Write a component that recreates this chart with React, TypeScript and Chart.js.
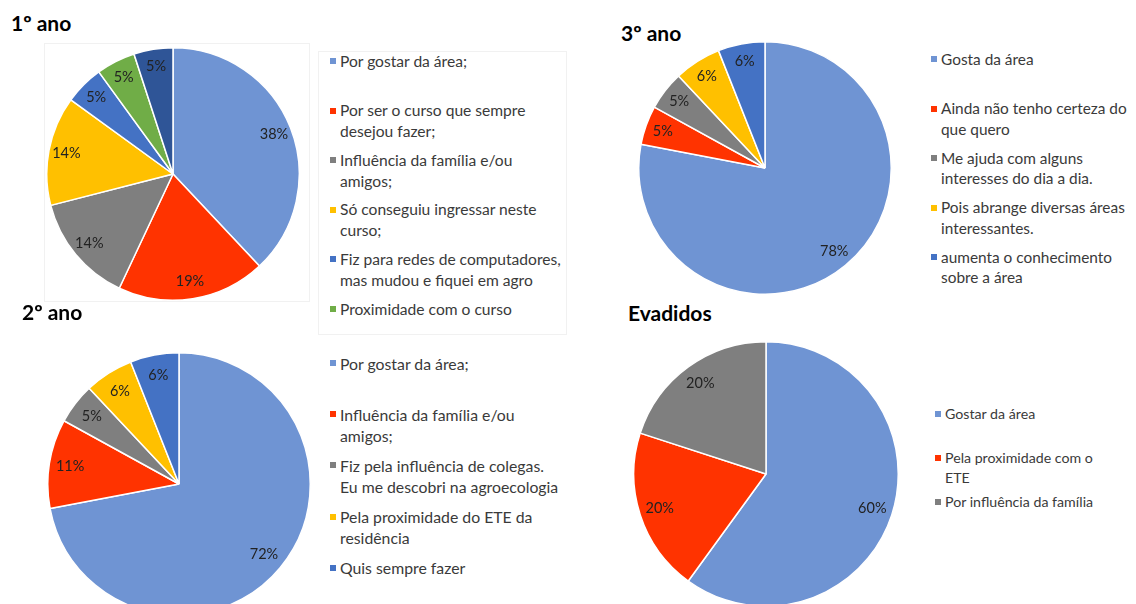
import React, { useEffect, useRef } from "react";
import { Chart, registerables } from "chart.js";

Chart.register(...registerables);

// ---------- Data ----------
const titles = ["1º ano", "2º ano", "3º ano", "Evadidos"];

const labels1 = [
  "Por gostar da área;",
  "Por ser o curso que sempre\ndesejou fazer;",
  "Influência da família e/ou\namigos;",
  "Só conseguiu ingressar neste\ncurso;",
  "Fiz para redes de computadores,\nmas mudou e fiquei em agro",
  "Proximidade com o curso",
];
const values1 = [38, 19, 14, 14, 5, 5, 5];

const labels2 = [
  "Por gostar da área;",
  "Influência da família e/ou\namigos;",
  "Fiz pela influência de colegas.\nEu me descobri na agroecologia",
  "Pela proximidade do ETE da\nresidência",
  "Quis sempre fazer",
];
const values2 = [72, 11, 5, 6, 6];

const labels3 = [
  "Gosta da área",
  "Ainda não tenho certeza do\nque quero",
  "Me ajuda com alguns\ninteresses do dia a dia.",
  "Pois abrange diversas áreas\ninteressantes.",
  "aumenta o conhecimento\nsobre a área",
];
const values3 = [78, 5, 5, 6, 6];

const labels4 = [
  "Gostar da área",
  "Pela proximidade com o\nETE",
  "Por influência da família",
];
const values4 = [60, 20, 20];

// ---------- Styles ----------
const LB = "#6f94d3";
const RED = "#ff3300";
const GRAY = "#7f7f7f";
const GOLD = "#ffc000";
const BLUE = "#4472c4";
const GREEN = "#70ad47";
const NAVY = "#2f5597";

const colors1 = [LB, RED, GRAY, GOLD, BLUE, GREEN, NAVY];
const colors2 = [LB, RED, GRAY, GOLD, BLUE];
const colors3 = [LB, RED, GRAY, GOLD, BLUE];
const colors4 = [LB, RED, GRAY];

const FONT = "Lato, 'Open Sans', sans-serif";

const pctPlugin = {
  id: "pct",
  afterDatasetsDraw(chart: any, _args: any, opts: any) {
    const ctx = chart.ctx;
    const meta = chart.getDatasetMeta(0);
    const data = chart.data.datasets[0].data;
    ctx.save();
    ctx.font = `${opts.size}px ${FONT}`;
    ctx.fillStyle = opts.color;
    ctx.textAlign = "center";
    ctx.textBaseline = "middle";
    meta.data.forEach((arc: any, i: number) => {
      const p = arc.getProps(["x", "y", "startAngle", "endAngle", "outerRadius"], true);
      const mid = (p.startAngle + p.endAngle) / 2;
      const d = p.outerRadius * opts.frac;
      ctx.fillText(`${data[i]}%`, p.x + Math.cos(mid) * d, p.y + Math.sin(mid) * d);
    });
    ctx.restore();
  },
};

type PieProps = {
  values: number[];
  labels: string[];
  colors: string[];
  cx: number;
  cy: number;
  r: number;
  frac: number;
  size: number;
};

function Pie({ values, labels, colors, cx, cy, r, frac, size }: PieProps) {
  const ref = useRef<HTMLCanvasElement | null>(null);
  const S = Math.round(2 * r + 2);
  useEffect(() => {
    if (!ref.current) return;
    const chart = new Chart(ref.current, {
      type: "pie",
      data: {
        labels: values.map((_, i) => labels[i] ?? ""),
        datasets: [
          {
            data: values,
            backgroundColor: colors,
            borderColor: "#ffffff",
            borderWidth: 1.5,
          },
        ],
      },
      options: {
        animation: false,
        responsive: false,
        devicePixelRatio: 1,
        layout: { padding: 0 },
        plugins: {
          legend: { display: false },
          tooltip: { enabled: false },
          title: { display: false },
          pct: { frac, size, color: "#222222" },
        } as any,
      },
      plugins: [pctPlugin as any],
    });
    return () => chart.destroy();
  }, []);
  return (
    <canvas
      ref={ref}
      width={S}
      height={S}
      style={{
        position: "absolute",
        left: cx - S / 2,
        top: cy - S / 2,
        width: S,
        height: S,
      }}
    />
  );
}

type LegendProps = {
  labels: string[];
  colors: string[];
  x: number;
  y0: number;
  gap: number;
  fontSize: number;
  lineHeight: number;
};

function Legend({ labels, colors, x, y0, gap, fontSize, lineHeight }: LegendProps) {
  return (
    <>
      {labels.map((t, i) => {
        const yc = y0 + i * gap;
        return (
          <React.Fragment key={i}>
            <div
              style={{
                position: "absolute",
                left: x - 10,
                top: yc - 3,
                width: 6,
                height: 6,
                background: colors[i],
              }}
            />
            <div
              style={{
                position: "absolute",
                left: x,
                top: yc - lineHeight / 2,
                fontFamily: FONT,
                fontSize,
                lineHeight: `${lineHeight}px`,
                color: "#3a3a3a",
                whiteSpace: "pre",
              }}
            >
              {t}
            </div>
          </React.Fragment>
        );
      })}
    </>
  );
}

function Title({ text, x, y }: { text: string; x: number; y: number }) {
  return (
    <div
      style={{
        position: "absolute",
        left: x,
        top: y - 14,
        fontFamily: FONT,
        fontWeight: 700,
        fontSize: 21,
        lineHeight: "28px",
        color: "#000",
        whiteSpace: "pre",
      }}
    >
      {text}
    </div>
  );
}

export default function App() {
  return (
    <div
      style={{
        position: "absolute",
        left: 0,
        top: 0,
        width: 1136,
        height: 604,
        overflow: "hidden",
        background: "#ffffff",
      }}
    >
      {/* faint frames of chart 1 */}
      <div style={{ position: "absolute", left: 44, top: 43, width: 266, height: 259, border: "1px solid #f1f1f1", boxSizing: "border-box" }} />
      <div style={{ position: "absolute", left: 318, top: 51, width: 249, height: 284, border: "1px solid #f1f1f1", boxSizing: "border-box" }} />

      <Title text={titles[0]} x={11} y={23} />
      <Pie values={values1} labels={labels1} colors={colors1} cx={173} cy={174} r={126} frac={0.86} size={14.5} />
      <Legend labels={labels1} colors={colors1} x={340} y0={61} gap={49.6} fontSize={15.6} lineHeight={21} />

      <Title text={titles[1]} x={22} y={312} />
      <Pie values={values2} labels={labels2} colors={colors2} cx={179} cy={484} r={131} frac={0.84} size={14.5} />
      <Legend labels={labels2} colors={colors2} x={340} y0={363} gap={51.2} fontSize={15.8} lineHeight={21} />

      <Title text={titles[2]} x={621} y={33} />
      <Pie values={values3} labels={labels3} colors={colors3} cx={765} cy={168} r={126} frac={0.86} size={14.5} />
      <Legend labels={labels3} colors={colors3} x={941} y0={59} gap={49.5} fontSize={15.4} lineHeight={20.5} />

      <Title text={titles[3]} x={628} y={313} />
      <Pie values={values4} labels={labels4} colors={colors4} cx={766} cy={474} r={132} frac={0.845} size={14.5} />
      <Legend labels={labels4} colors={colors4} x={945} y0={414} gap={44} fontSize={14.2} lineHeight={20} />
    </div>
  );
}
